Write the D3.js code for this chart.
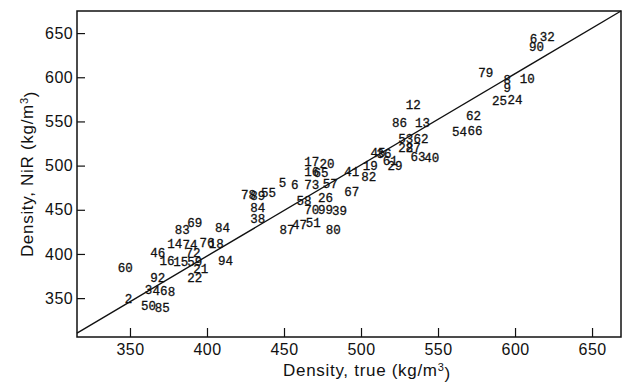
<!DOCTYPE html>
<html>
<head>
<meta charset="utf-8">
<script src="https://cdn.jsdelivr.net/npm/d3@7"></script>
<style>
  body { margin: 0; background: #fff; }
  svg { display: block; }
  .tick text { font-family: "Liberation Sans", Arial, sans-serif; font-size: 16px; letter-spacing: 0.4px; fill: #111; }
  .tick line { stroke: #111; stroke-width: 1.2; }
  .pt-label { font-family: "Liberation Mono", monospace; font-size: 12.5px; fill: #111; stroke: #111; stroke-width: 0.3; }
  .axis-title { font-family: "Liberation Sans", Arial, sans-serif; font-size: 17px; letter-spacing: 0.7px; fill: #111; }
</style>
</head>
<body>
<svg id="chart" width="623" height="383"></svg>
<script>
    // Sample numbers printed at each point
    const pointIds = ["2", "50", "85", "3", "4", "6", "8", "92", "60", "46",
        "16", "15", "59", "14", "74", "72", "83", "69", "76", "18",
        "84", "94", "21", "22", "78", "89", "55", "84", "38", "5",
        "6", "87", "47", "51", "80", "70", "99", "39", "58", "17",
        "20", "16", "65", "73", "57", "26", "67", "41", "19", "82",
        "45", "36", "61", "29", "28", "27", "63", "40", "53", "62",
        "86", "13", "12", "54", "66", "62", "25", "24", "79", "8",
        "9", "10", "32", "6", "90"];

    // Density, true (kg/m3)
    const trueDensity = [349, 362, 371, 362, 367, 372, 377, 368, 347, 368,
        374, 383, 392, 379, 389, 391, 384, 392, 400, 406,
        410, 412, 396, 392, 427, 433, 440, 433, 433, 449,
        457, 452, 460, 469, 482, 468, 477, 486, 463, 468,
        478, 468, 474, 468, 480, 477, 494, 494, 506, 505,
        511, 515, 519, 522, 529, 534, 537, 546, 529, 539,
        525, 540, 534, 564, 574, 573, 590, 600, 581, 595,
        595, 608, 621, 612, 614];

    // Density, NIR (kg/m3)
    const nirDensity = [350, 342, 339, 360, 359, 358, 357, 373, 384, 401,
        393, 391, 391, 412, 410, 401, 427, 435, 413, 412,
        430, 393, 383, 373, 467, 466, 469, 452, 440, 481,
        479, 427, 433, 436, 428, 450, 450, 449, 460, 505,
        502, 493, 492, 479, 480, 464, 470, 493, 500, 487,
        515, 514, 506, 500, 520, 520, 510, 509, 531, 531,
        549, 549, 569, 539, 540, 557, 573, 575, 605, 597,
        588, 598, 646, 644, 635];

    // Fitted line end points (true, NIR)
    const fitTrue = [315.6, 668.8];
    const fitNir = [310.5, 675];

    const xTicks = [350, 400, 450, 500, 550, 600, 650];
    const yTicks = [350, 400, 450, 500, 550, 600, 650];

    const points = pointIds.map((id, i) => ({ id: id, x: trueDensity[i], y: nirDensity[i] }));

    const svg = d3.select('#chart');
    const margin = { top: 11, right: 2, bottom: 46, left: 77 };
    const width = 623;
    const height = 383;

    const x = d3.scaleLinear()
        .domain([315.6, 668.8])
        .range([margin.left, width - margin.right]);

    const y = d3.scaleLinear()
        .domain([306, 675])
        .range([height - margin.bottom, margin.top]);

    // Axes with ticks pointing inward
    const xAxis = svg.append('g')
        .attr('transform', `translate(0,${height - margin.bottom})`)
        .call(d3.axisBottom(x).tickValues(xTicks).tickSizeInner(-9).tickSizeOuter(0).tickPadding(7));
    xAxis.select('.domain').remove();

    const yAxis = svg.append('g')
        .attr('transform', `translate(${margin.left},0)`)
        .call(d3.axisLeft(y).tickValues(yTicks).tickSizeInner(-8).tickSizeOuter(0).tickPadding(4));
    yAxis.select('.domain').remove();

    // Frame
    svg.append('rect')
        .attr('x', margin.left)
        .attr('y', margin.top)
        .attr('width', width - margin.left - margin.right)
        .attr('height', height - margin.top - margin.bottom)
        .attr('fill', 'none')
        .attr('stroke', '#111')
        .attr('stroke-width', 1.5);

    // Fit line
    svg.append('line')
        .attr('x1', x(fitTrue[0]))
        .attr('y1', y(fitNir[0]))
        .attr('x2', x(fitTrue[1]))
        .attr('y2', y(fitNir[1]))
        .attr('stroke', '#111')
        .attr('stroke-width', 1.4);

    // Point labels
    svg.append('g')
        .selectAll('text')
        .data(points)
        .join('text')
        .attr('class', 'pt-label')
        .attr('x', d => x(d.x))
        .attr('y', d => y(d.y))
        .attr('text-anchor', 'middle')
        .attr('dy', '0.35em')
        .text(d => d.id);

    // Axis titles
    const xTitle = svg.append('text')
        .attr('class', 'axis-title')
        .attr('x', 367)
        .attr('y', 376)
        .attr('text-anchor', 'middle');
    xTitle.append('tspan').text('Density, true (kg/m');
    xTitle.append('tspan').attr('dy', '-0.45em').style('font-size', '11px').text('3');
    xTitle.append('tspan').attr('dy', '0.45em').text(')');

    const yTitle = svg.append('text')
        .attr('class', 'axis-title')
        .attr('transform', 'translate(33,174) rotate(-90)')
        .attr('text-anchor', 'middle');
    yTitle.append('tspan').text('Density, NiR (kg/m');
    yTitle.append('tspan').attr('dy', '-0.45em').style('font-size', '11px').text('3');
    yTitle.append('tspan').attr('dy', '0.45em').text(')');
</script>
</body>
</html>
